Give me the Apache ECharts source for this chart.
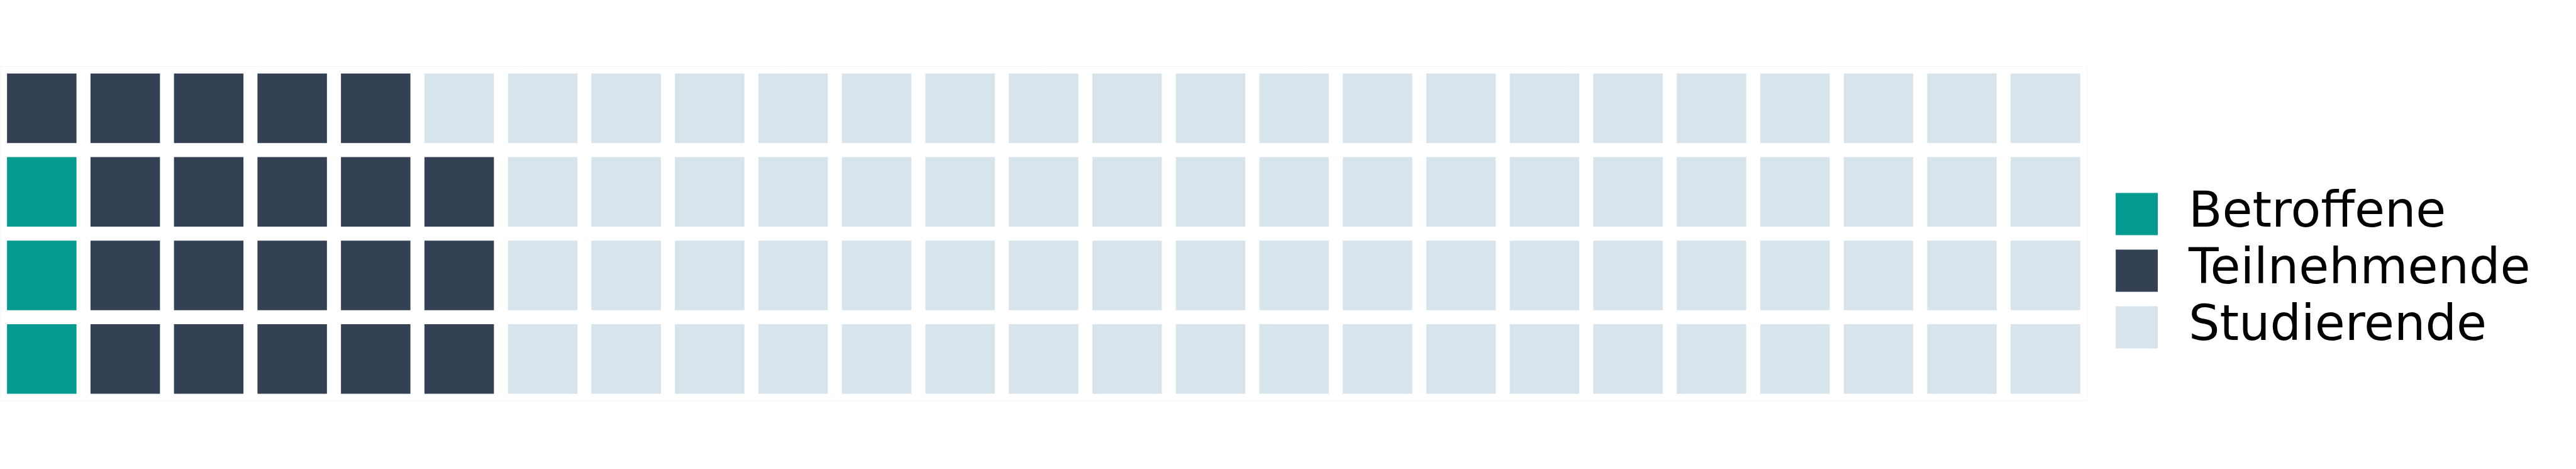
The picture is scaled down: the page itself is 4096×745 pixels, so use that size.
<!DOCTYPE html>
<html>
<head>
<meta charset="utf-8">
<style>
html,body{margin:0;padding:0;background:#ffffff;}
#chart{width:4096px;height:745px;}
</style>
<script src="https://cdn.jsdelivr.net/npm/echarts@6/dist/echarts.min.js"></script>
</head>
<body>
<div id="chart"></div>
<script>
// ---- data ----
const categories = ['Betroffene', 'Teilnehmende', 'Studierende'];
const counts = [3, 20, 77];
const colors = ['#039A8F', '#344154', '#D8E4EC'];
const nCols = 25;
const nRows = 4;
const colLabels = Array.from({length: nCols}, (_, i) => String(i));
const rowLabels = Array.from({length: nRows}, (_, i) => String(i));

// cells filled column by column, from the bottom row upward
function buildCells() {
  const perCat = categories.map(() => []);
  let cat = 0, used = 0;
  for (let c = 0; c < nCols; c++) {
    for (let r = 0; r < nRows; r++) {
      while (cat < counts.length && used >= counts[cat]) { cat++; used = 0; }
      if (cat >= counts.length) break;
      perCat[cat].push([c, r]);
      used++;
    }
  }
  return perCat;
}
const cells = buildCells();

const S = 0.531;
const chart = echarts.init(document.getElementById('chart'), null, {renderer: 'canvas'});

function renderCell(params, api) {
  const p = api.coord([api.value(0), api.value(1)]);
  const sz = api.size([1, 1]);
  const w = sz[0] * 0.832;
  const h = sz[1] * 0.832;
  return {
    type: 'rect',
    shape: {x: p[0] - w / 2, y: p[1] - h / 2, width: w, height: h},
    style: {fill: api.visual('color')}
  };
}

const option = {
  backgroundColor: '#ffffff',
  animation: false,
  grid: {
    left: 0,
    top: 199 * S,
    width: 6250 * S,
    height: 1000 * S,
    show: true,
    borderColor: '#f4f4f4',
    borderWidth: 1,
    containLabel: false
  },
  xAxis: {
    type: 'category',
    data: colLabels,
    show: false
  },
  yAxis: {
    type: 'category',
    data: rowLabels,
    show: false
  },
  legend: {
    orient: 'vertical',
    left: 6326 * S,
    top: 296,
    icon: 'rect',
    itemWidth: 126 * S,
    itemHeight: 126 * S,
    itemGap: 12,
    data: categories,
    textStyle: {
      fontFamily: 'DejaVu Sans',
      fontSize: 78,
      color: '#000000',
      lineHeight: 126 * S,
      padding: [0, 0, 0, 44]
    }
  },
  series: categories.map((name, i) => ({
    name: name,
    type: 'custom',
    renderItem: renderCell,
    itemStyle: {color: colors[i]},
    encode: {x: 0, y: 1},
    data: cells[i]
  }))
};
chart.setOption(option);
</script>
</body>
</html>
